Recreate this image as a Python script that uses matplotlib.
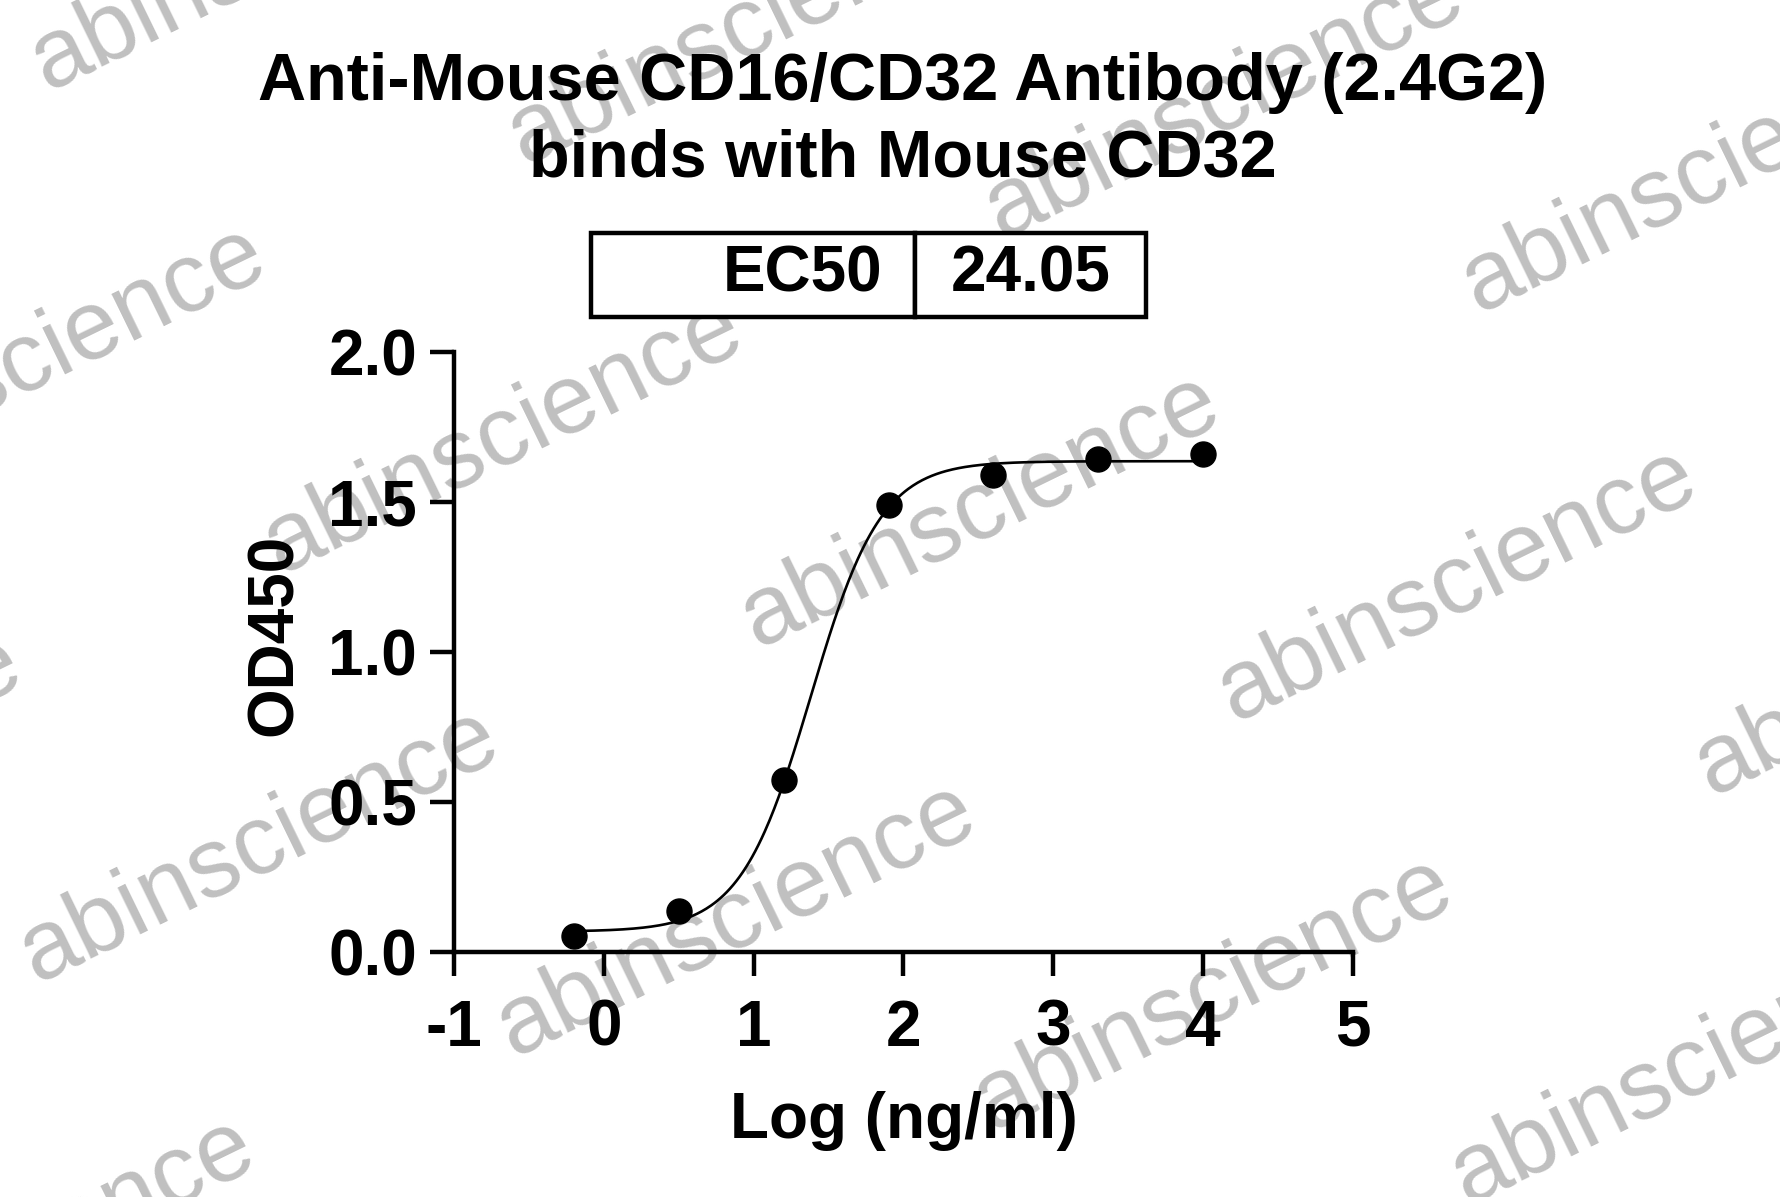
import numpy as np
import matplotlib
matplotlib.use('Agg')
import matplotlib.pyplot as plt
from matplotlib.table import Table

plt.rcParams['font.family'] = ['Liberation Sans', 'DejaVu Sans']
plt.rcParams['axes.unicode_minus'] = False

# data
log_conc = [-0.2, 0.5, 1.2, 1.9, 2.6, 3.3, 4.0]
od450 = [0.053, 0.136, 0.572, 1.489, 1.59, 1.645, 1.66]

# 4PL fit shown by the curve
ec50 = 24.05
fit_bottom = 0.068
fit_top = 1.636
fit_hill = 1.85

x_ticks = [-1, 0, 1, 2, 3, 4, 5]
y_ticks = [0.0, 0.5, 1.0, 1.5, 2.0]
y_tick_labels = ['0.0', '0.5', '1.0', '1.5', '2.0']

title = 'Anti-Mouse CD16/CD32 Antibody (2.4G2)\nbinds with Mouse CD32'
table_row = ['EC50', '24.05']
watermark = 'abinscience'

W, H = 1781, 1197
fig = plt.figure(figsize=(W / 100, H / 100), dpi=100)

# watermark grid, behind everything
for j in range(-2, 3):
    for i in range(-1, 5):
        x0 = 280 + 477 * i - 244 * j
        y0 = 574 + 74 * i + 409 * j
        fig.text(x0 / W, 1 - y0 / H, watermark, fontsize=71, color='#c0c0c0',
                 fontweight='normal', rotation=26, rotation_mode='anchor',
                 ha='left', va='baseline', zorder=-10)

ax = fig.add_axes([454 / W, 1 - 952 / H, 899 / W, 600 / H])
ax.patch.set_facecolor('none')

xs = np.linspace(log_conc[0], log_conc[-1], 400)
curve = fit_bottom + (fit_top - fit_bottom) / (1 + 10 ** ((np.log10(ec50) - xs) * fit_hill))
ax.plot(xs, curve, color='black', lw=1.9, zorder=3)
ax.plot(log_conc, od450, 'o', color='black', ms=18, zorder=4, clip_on=False)

ax.set_xlim(-1, 5)
ax.set_ylim(0, 2)
ax.set_xticks(x_ticks)
ax.set_xticklabels([str(t) for t in x_ticks])
ax.set_yticks(y_ticks)
ax.set_yticklabels(y_tick_labels)
for s in ['top', 'right']:
    ax.spines[s].set_visible(False)
for s in ['left', 'bottom']:
    ax.spines[s].set_linewidth(3.2)
ax.tick_params(axis='both', length=17.5, width=3.2, labelsize=46)
ax.tick_params(axis='x', pad=16)
ax.tick_params(axis='y', pad=9)
for lab in ax.get_xticklabels() + ax.get_yticklabels():
    lab.set_fontweight('bold')

ax.set_xlabel('Log (ng/ml)', fontsize=46, fontweight='bold')
ax.set_ylabel('OD450', fontsize=46, fontweight='bold')
ax.xaxis.set_label_coords(0.5, -0.232)
ax.yaxis.set_label_coords(-0.166, 0.528)

fig.text(903 / W, 1 - 52 / H, title, fontsize=48, fontweight='bold',
         ha='center', va='top', linespacing=1.3)

# EC50 table
tax = fig.add_axes([591 / W, 1 - 317 / H, 555 / W, 84 / H])
tax.axis('off')
tbl = Table(tax, bbox=[0, 0, 1, 1])
tbl.add_cell(0, 0, width=0.584, height=1, text=table_row[0], loc='right')
tbl.add_cell(0, 1, width=0.416, height=1, text=table_row[1], loc='center')
tbl.auto_set_font_size(False)
for cell in tbl.get_celld().values():
    cell.set_linewidth(3.2)
    cell.get_text().set_fontsize(46)
    cell.get_text().set_fontweight('bold')
tax.add_table(tbl)

fig.savefig('out.png', dpi=100)
